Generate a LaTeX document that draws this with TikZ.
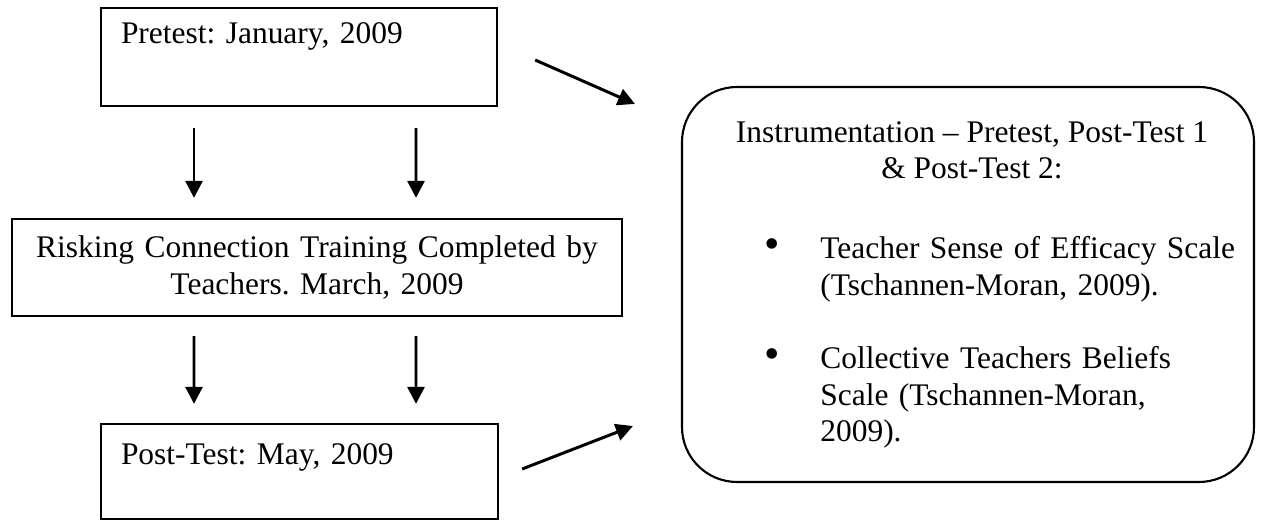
\documentclass[tikz,border=0pt]{standalone}
\usepackage{fontspec}
\setmainfont{Liberation Serif}
\usepackage{tikz}
\usetikzlibrary{arrows.meta,positioning}
\frenchspacing

\begin{document}
\begin{tikzpicture}[>={Triangle[length=0.34cm,width=0.34cm]},
		box/.style={draw, line width=1.3pt, inner ysep=0pt, inner xsep=0.4cm},
		roundbox/.style={draw, line width=1.2pt, rounded corners=1.1cm, inner sep=0pt},
		flow/.style={->, line width=1.7pt},
		item/.style={text width=9cm, align=left, anchor=north west, inner sep=0pt},
		every node/.style={font=\fontsize{17.9}{20.6}\selectfont}]
	\useasboundingbox (0,0) rectangle (25.48,10.4);

	% time line
	\node (pretest) [box, text width=7.12cm, align=left, text height=0.72cm, text depth=1.24cm] at (5.98,9.26) {Pretest: January, 2009};
	\node (training) [box, text width=11.4cm, align=center, minimum height=1.94cm] at (6.34,5.05) {Risking Connection Training Completed by\\ Teachers. March, 2009};
	\node (posttest) [box, text width=7.14cm, align=left, text height=0.82cm, text depth=1.08cm] at (5.99,0.97) {Post-Test: May, 2009};

	\draw [flow] ([xshift=-2.1cm, yshift=-0.42cm]pretest.south) -- ([xshift=-2.46cm, yshift=0.4cm]training.north);
	\draw [flow] ([xshift=2.34cm, yshift=-0.42cm]pretest.south) -- ([xshift=1.98cm, yshift=0.4cm]training.north);
	\draw [flow] ([xshift=-2.46cm, yshift=-0.38cm]training.south) -- ([xshift=-2.11cm, yshift=0.38cm]posttest.north);
	\draw [flow] ([xshift=1.98cm, yshift=-0.38cm]training.south) -- ([xshift=2.33cm, yshift=0.38cm]posttest.north);

	% instruments
	\node (instr) [roundbox, minimum width=11.44cm, minimum height=7.9cm] at (19.36,4.71) {};
	\node (head) [align=center, anchor=north, inner sep=0pt] at (19.44,7.97) {Instrumentation -- Pretest, Post-Test 1\\ \& Post-Test 2:};
	\node (tsef) [item] at (16.4,5.67) {\llap{\scalebox{1.4}{\textbullet}\hspace{0.8cm}}Teacher Sense of Efficacy Scale\\ (Tschannen-Moran, 2009).};
	\node (ctbs) [item] at (16.4,3.47) {\llap{\scalebox{1.4}{\textbullet}\hspace{0.8cm}}Collective Teachers Beliefs\\ Scale (Tschannen-Moran,\\ 2009).};

	\draw [flow] ([xshift=0.74cm, yshift=-0.06cm]pretest.east) -- ([xshift=-0.92cm, yshift=-0.36cm]instr.north west);
	\draw [flow] ([xshift=0.46cm, yshift=0.05cm]posttest.east) -- ([xshift=-0.96cm, yshift=1.14cm]instr.south west);
\end{tikzpicture}
\end{document}
